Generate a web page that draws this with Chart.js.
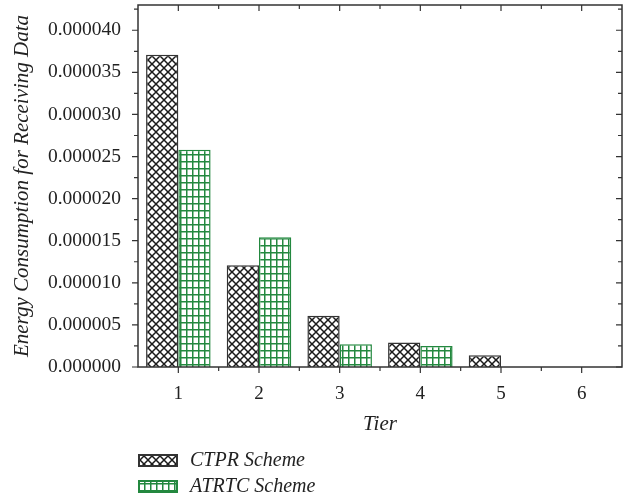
<!DOCTYPE html>
<html>
<head>
<meta charset="utf-8">
<script src="https://cdn.jsdelivr.net/npm/chart.js@4/dist/chart.umd.min.js"></script>
<style>
    html, body { margin: 0; padding: 0; background: #fff; }
    #wrap { width: 637px; height: 502px; }
</style>
</head>
<body>
<div id="wrap"><canvas id="chart"></canvas></div>
<script>
const tiers = ['1', '2', '3', '4', '5', '6'];
const ctprScheme = [0.0000371, 0.0000121, 0.0000061, 0.0000029, 0.0000014, 0];
const atrtcScheme = [0.0000258, 0.0000154, 0.0000027, 0.0000025, 0, 0];
const yStep = 0.000005;
const yMax = 0.000043;

const FONT = "'Liberation Serif', 'Times New Roman', serif";
const INK = '#333';
const GREEN = '#23883f';

function crossPattern() {
    const c = document.createElement('canvas');
    c.width = 8; c.height = 8;
    const g = c.getContext('2d');
    g.fillStyle = '#fff';
    g.fillRect(0, 0, 8, 8);
    g.strokeStyle = '#1a1a1a';
    g.lineWidth = 1.5;
    g.beginPath();
    g.moveTo(-1, -1); g.lineTo(9, 9);
    g.moveTo(9, -1); g.lineTo(-1, 9);
    g.stroke();
    return g.createPattern(c, 'repeat');
}

function gridPattern() {
    const c = document.createElement('canvas');
    c.width = 6; c.height = 7;
    const g = c.getContext('2d');
    g.fillStyle = '#fff';
    g.fillRect(0, 0, 6, 7);
    g.strokeStyle = GREEN;
    g.lineWidth = 1.5;
    g.beginPath();
    g.moveTo(0.75, 0); g.lineTo(0.75, 7);
    g.moveTo(0, 0.75); g.lineTo(6, 0.75);
    g.stroke();
    return g.createPattern(c, 'repeat');
}

const crossFill = crossPattern();
const gridFill = gridPattern();

// frame on all four sides, ticks out on bottom/left, in on top/right
const frameTicks = {
    id: 'frameTicks',
    afterDatasetsDraw(chart) {
        const { ctx, chartArea: a, scales } = chart;
        const x = scales.x, y = scales.y;
        ctx.save();
        ctx.strokeStyle = INK;
        ctx.lineWidth = 1.5;
        ctx.strokeRect(a.left, a.top, a.right - a.left, a.bottom - a.top);

        ctx.lineWidth = 1.2;
        ctx.beginPath();
        const n = tiers.length;
        const half = (x.getPixelForValue(1) - x.getPixelForValue(0)) / 2;
        for (let i = 0; i < n; i++) {
            const px = x.getPixelForValue(i);
            ctx.moveTo(px, a.bottom); ctx.lineTo(px, a.bottom + 6);
            ctx.moveTo(px, a.top); ctx.lineTo(px, a.top + 6);
            const mx = px + half;
            if (i < n - 1) {
                ctx.moveTo(mx, a.bottom); ctx.lineTo(mx, a.bottom + 4);
                ctx.moveTo(mx, a.top); ctx.lineTo(mx, a.top + 4);
            }
        }
        for (let v = 0; v <= yMax + 1e-12; v += yStep / 2) {
            const py = y.getPixelForValue(v);
            const major = Math.abs(v / yStep - Math.round(v / yStep)) < 1e-6;
            const len = major ? 6 : 4;
            ctx.moveTo(a.left, py); ctx.lineTo(a.left - len, py);
            ctx.moveTo(a.right, py); ctx.lineTo(a.right - len, py);
        }
        ctx.stroke();
        ctx.restore();
    }
};

// legend stacked under the plot, left aligned with the y axis
const stackedLegend = {
    id: 'stackedLegend',
    afterDraw(chart) {
        const { ctx, chartArea: a } = chart;
        const rows = [chart.height - 41, chart.height - 15];
        ctx.save();
        chart.data.datasets.forEach((ds, i) => {
            const cy = rows[i];
            ctx.fillStyle = ds.backgroundColor;
            ctx.fillRect(a.left + 1, cy - 6, 38, 11);
            ctx.strokeStyle = ds.borderColor;
            ctx.lineWidth = 2;
            ctx.strokeRect(a.left + 1, cy - 6, 38, 11);
            ctx.fillStyle = '#222';
            ctx.font = 'italic 20px ' + FONT;
            ctx.textBaseline = 'middle';
            ctx.fillText(ds.label, a.left + 52, cy);
        });
        ctx.restore();
    }
};

new Chart(document.getElementById('chart').getContext('2d'), {
    type: 'bar',
    data: {
        labels: tiers,
        datasets: [
            {
                label: 'CTPR Scheme',
                data: ctprScheme,
                backgroundColor: crossFill,
                borderColor: INK,
                borderWidth: 1.5,
                borderSkipped: 'bottom'
            },
            {
                label: 'ATRTC Scheme',
                data: atrtcScheme,
                backgroundColor: gridFill,
                borderColor: GREEN,
                borderWidth: 1.5,
                borderSkipped: 'bottom'
            }
        ]
    },
    options: {
        responsive: true,
        maintainAspectRatio: false,
        animation: false,
        layout: { padding: { top: 5, right: 15, bottom: 65, left: 0 } },
        datasets: { bar: { categoryPercentage: 0.8, barPercentage: 1.0 } },
        scales: {
            x: {
                grid: { display: false, drawTicks: false },
                border: { display: false },
                ticks: { color: '#222', font: { family: FONT, size: 19 }, padding: 16 },
                title: {
                    display: true,
                    text: 'Tier',
                    color: '#222',
                    font: { family: FONT, size: 21, style: 'italic' },
                    padding: { top: 4, bottom: 0 }
                },
                afterFit: s => { s.height = 70; s.paddingLeft = 0; s.paddingRight = 0; }
            },
            y: {
                min: 0,
                max: yMax,
                grid: { display: false, drawTicks: false },
                border: { display: false },
                ticks: {
                    stepSize: yStep,
                    includeBounds: false,
                    color: '#222',
                    font: { family: FONT, size: 19.5 },
                    padding: 17,
                    callback: v => v.toFixed(6)
                },
                title: {
                    display: true,
                    text: 'Energy Consumption for Receiving Data',
                    color: '#222',
                    font: { family: FONT, size: 21, style: 'italic' },
                    padding: { top: 10, bottom: 0 }
                },
                afterFit: s => { s.width = 138; s.paddingTop = 0; s.paddingBottom = 0; }
            }
        },
        plugins: {
            legend: { display: false },
            tooltip: { enabled: false }
        }
    },
    plugins: [frameTicks, stackedLegend]
});
</script>
</body>
</html>
